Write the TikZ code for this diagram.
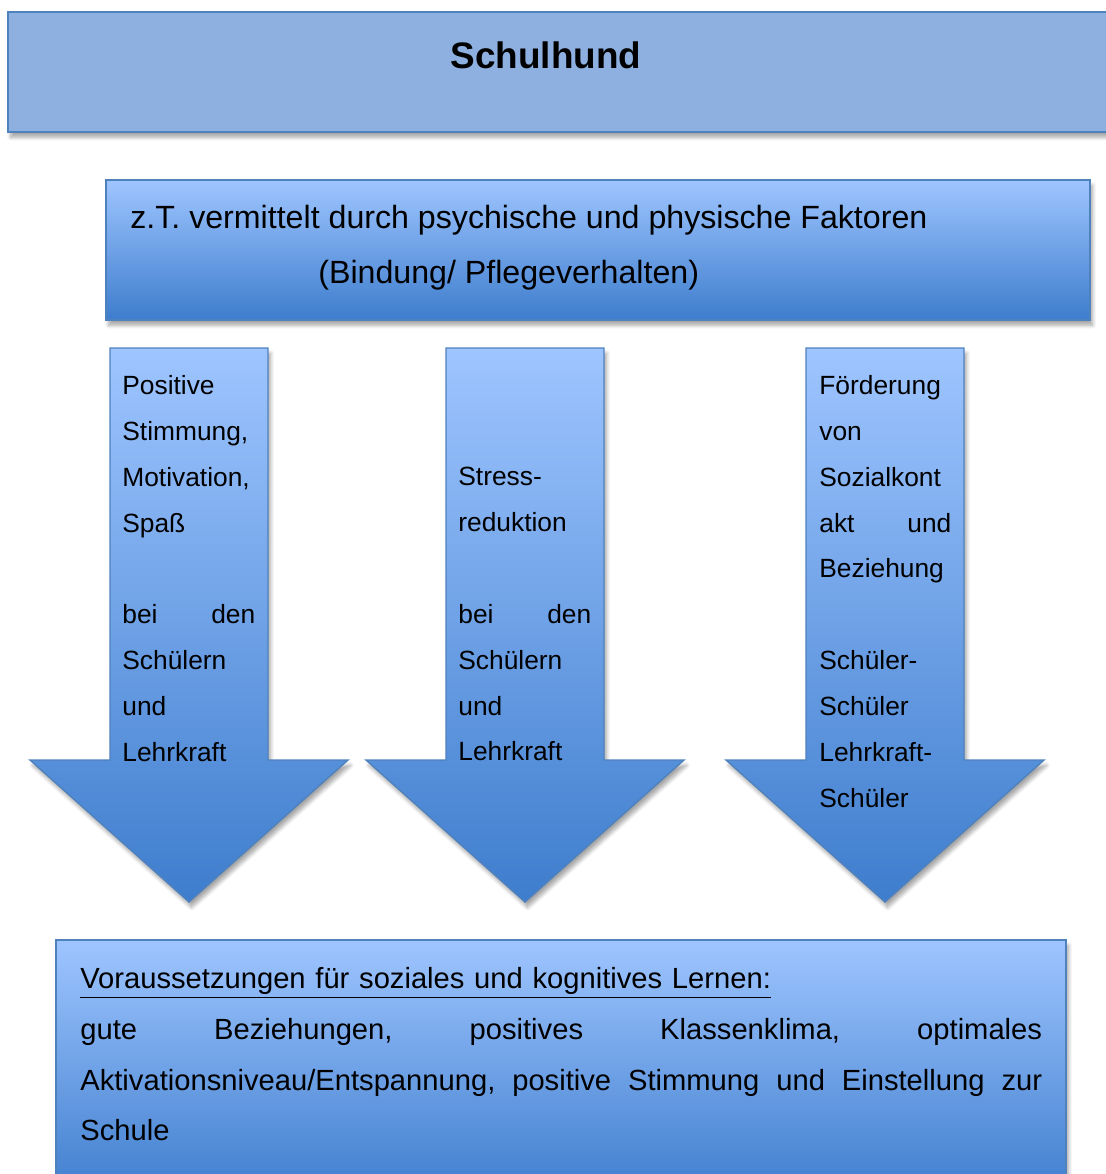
\documentclass[tikz,border=0pt]{standalone}
\usepackage{fontspec}
\setmainfont{Liberation Sans}
\usetikzlibrary{shadows.blur}
\definecolor{head_blue}{RGB}{141,176,225}
\definecolor{edge_blue}{RGB}{79,129,189}
\definecolor{light_blue}{RGB}{158,197,255}
\definecolor{dark_blue}{RGB}{62,125,205}

\tikzset{
	boxshadow/.style={blur shadow={shadow xshift=1.5pt,shadow yshift=-3pt,shadow blur steps=6,shadow opacity=35}},
	gradbox/.style={draw=edge_blue,line width=1.2pt,top color=light_blue,bottom color=dark_blue,boxshadow},
	arrowtext/.style={anchor=north west,inner sep=0pt,text width=2.66cm,align=left,font=\fontsize{15}{26.1}\selectfont},
}

\begin{document}
\begin{tikzpicture}[x=0.02cm,y=-0.02cm]
	\useasboundingbox (0,0) rectangle (1106,1174);

	% title bar
	\path[draw=edge_blue,line width=1.6pt,fill=head_blue,boxshadow] (8,12) rectangle (1120,132);
	\node[font=\fontsize{21}{25}\selectfont\bfseries] (title) at (546,55) {Schulhund};

	% second bar
	\path[gradbox] (106,180) rectangle (1090,320);
	\node[anchor=west,inner sep=0pt,font=\fontsize{18.3}{22}\selectfont] (via) at (130,220) {z.T. vermittelt durch psychische und physische Faktoren};
	\node[anchor=west,inner sep=0pt,font=\fontsize{18.3}{22}\selectfont] (bind) at (318,275) {(Bindung/ Pflegeverhalten)};

	% arrows
	\foreach \c in {189,525,885}
		\path[gradbox,line width=0.8pt] (\c-79,348) -- (\c+79,348) -- (\c+79,760) -- (\c+159,760) -- (\c,902) -- (\c-159,760) -- (\c-79,760) -- cycle;

	\node[arrowtext] (mood) at (122,375) {Positive\\Stimmung,\\Motivation,\\Spaß\\[26.1pt]\makebox[2.66cm][l]{bei\hfill den}\\Schülern\\und\\Lehrkraft};
	\node[arrowtext] (stress) at (458,467) {Stress-\\reduktion\\[26.1pt]\makebox[2.66cm][l]{bei\hfill den}\\Schülern\\und\\Lehrkraft};
	\node[arrowtext,text width=2.64cm] (social) at (819,375) {Förderung\\von\\Sozialkont\\\makebox[2.64cm][l]{akt\hfill und}\\Beziehung\\[26.1pt]Schüler-\\Schüler\\Lehrkraft-\\Schüler};

	% bottom bar
	\path[gradbox] (56,940) rectangle (1066,1200);
	\node[anchor=north west,inner sep=0pt,text width=19.24cm,align=left,font=\fontsize{16.6}{28.9}\selectfont] (goal) at (80,967) {\underline{Voraussetzungen für soziales und kognitives Lernen:}\\\makebox[19.24cm][l]{gute\hfill Beziehungen,\hfill positives\hfill Klassenklima,\hfill optimales}\\\makebox[19.24cm][l]{Aktivationsniveau/Entspannung,\hfill positive\hfill Stimmung\hfill und\hfill Einstellung\hfill zur}\\Schule};
\end{tikzpicture}
\end{document}
